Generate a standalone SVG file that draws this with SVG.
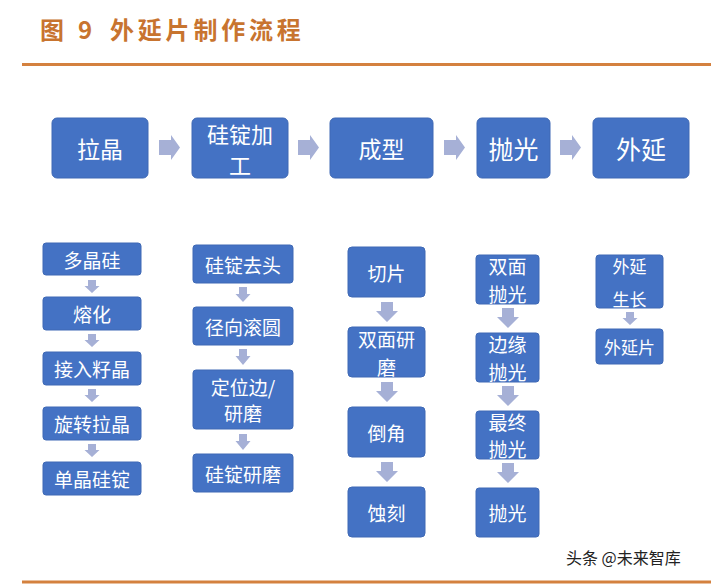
<svg xmlns="http://www.w3.org/2000/svg" width="711" height="587" viewBox="0 0 711 587">
<style>
.bx{fill:#4472C4;stroke:#3F69B5;stroke-width:1}
.t{fill:#FFFFFF;font-family:"Noto Sans CJK SC","Noto Sans",sans-serif;text-anchor:middle;dominant-baseline:central}
.ar{fill:#A6B0D6}
.rule{stroke:#D4813F;stroke-width:3}
</style>
<rect width="711" height="587" fill="#FFFFFF"/>
<text x="40" y="39" font-family="'Noto Sans CJK SC',sans-serif" font-weight="bold" font-size="24" fill="#C8742F"><tspan x="40">图</tspan><tspan x="78">9</tspan><tspan x="110" letter-spacing="3.8">外延片制作流程</tspan></text>
<line class="rule" x1="22" y1="64.5" x2="711" y2="64.5"/>
<line class="rule" x1="22" y1="582" x2="711" y2="582"/>

<g id="connectors">
  <polygon class="ar" points="159,140 171,140 171,135 180,147.5 171,160 171,155 159,155"/>
  <polygon class="ar" points="298,140 310,140 310,135 319,147.5 310,160 310,155 298,155"/>
  <polygon class="ar" points="444,140 456,140 456,135 465,147.5 456,160 456,155 444,155"/>
  <polygon class="ar" points="560,140 572,140 572,135 581,147.5 572,160 572,155 560,155"/>

  <polygon class="ar" points="88,280 96,280 96,286 99.5,286 92,293 84.5,286 88,286"/>
  <polygon class="ar" points="88,334 96,334 96,340 99.5,340 92,347 84.5,340 88,340"/>
  <polygon class="ar" points="88,389 96,389 96,395 99.5,395 92,402 84.5,395 88,395"/>
  <polygon class="ar" points="88,444 96,444 96,450 99.5,450 92,457 84.5,450 88,450"/>

  <polygon class="ar" points="239,287 247,287 247,294 250.5,294 243,302 235.5,294 239,294"/>
  <polygon class="ar" points="239,349 247,349 247,356 250.5,356 243,365 235.5,356 239,356"/>
  <polygon class="ar" points="239,434 247,434 247,441 250.5,441 243,450 235.5,441 239,441"/>

  <polygon class="ar" points="381,302 393,302 393,311 398,311 387,322 376,311 381,311"/>
  <polygon class="ar" points="381,382 393,382 393,391 398,391 387,402 376,391 381,391"/>
  <polygon class="ar" points="381,462 393,462 393,471 398,471 387,482 376,471 381,471"/>

  <polygon class="ar" points="502,308 514,308 514,317 519,317 508,328 497,317 502,317"/>
  <polygon class="ar" points="502,386 514,386 514,395 519,395 508,406 497,395 502,395"/>
  <polygon class="ar" points="502,463 514,463 514,472 519,472 508,483 497,472 502,472"/>

  <polygon class="ar" points="626,312 634,312 634,318 637.5,318 630,325 622.5,318 626,318"/>
</g>

<g id="n-lajing"><rect class="bx" x="52" y="118" width="96" height="60" rx="5"/><text class="t" x="100" y="148" font-size="23">拉晶</text></g>
<g id="n-guidingjiagong"><rect class="bx" x="192" y="118" width="96" height="60" rx="5"/><text class="t" x="240" y="133" font-size="22">硅锭加</text><text class="t" x="240" y="164" font-size="22">工</text></g>
<g id="n-chengxing"><rect class="bx" x="330" y="118" width="103" height="60" rx="5"/><text class="t" x="381.5" y="148" font-size="23">成型</text></g>
<g id="n-paoguang"><rect class="bx" x="477" y="118" width="73" height="60" rx="5"/><text class="t" x="513.5" y="148" font-size="25">抛光</text></g>
<g id="n-waiyan"><rect class="bx" x="593" y="118" width="96" height="60" rx="5"/><text class="t" x="641" y="148" font-size="25">外延</text></g>

<g id="n-duojinggui"><rect class="bx" x="43" y="243" width="98" height="32" rx="3"/><text class="t" x="92" y="259" font-size="19">多晶硅</text></g>
<g id="n-ronghua"><rect class="bx" x="43" y="297" width="98" height="33" rx="3"/><text class="t" x="92" y="313.5" font-size="19">熔化</text></g>
<g id="n-jierujing"><rect class="bx" x="43" y="352" width="98" height="33" rx="3"/><text class="t" x="92" y="368.5" font-size="19">接入籽晶</text></g>
<g id="n-xuanzhuan"><rect class="bx" x="43" y="407" width="98" height="33" rx="3"/><text class="t" x="92" y="423.5" font-size="19">旋转拉晶</text></g>
<g id="n-danjing"><rect class="bx" x="43" y="462" width="98" height="33" rx="3"/><text class="t" x="92" y="478.5" font-size="19">单晶硅锭</text></g>

<g id="n-qutou"><rect class="bx" x="193" y="245" width="100" height="38" rx="3"/><text class="t" x="243" y="264" font-size="19">硅锭去头</text></g>
<g id="n-gunyuan"><rect class="bx" x="193" y="307" width="100" height="38" rx="3"/><text class="t" x="243" y="326" font-size="19">径向滚圆</text></g>
<g id="n-dingwei"><rect class="bx" x="193" y="370" width="100" height="59" rx="3"/><text class="t" x="243" y="386.5" font-size="19">定位边/</text><text class="t" x="243" y="412.5" font-size="19">研磨</text></g>
<g id="n-yanmo"><rect class="bx" x="193" y="454" width="100" height="38" rx="3"/><text class="t" x="243" y="473" font-size="19">硅锭研磨</text></g>

<g id="n-qiepian"><rect class="bx" x="348" y="247" width="77" height="50" rx="4"/><text class="t" x="386.5" y="272" font-size="19">切片</text></g>
<g id="n-shuangmianyanmo"><rect class="bx" x="348" y="327" width="77" height="50" rx="4"/><text class="t" x="386.5" y="338" font-size="19">双面研</text><text class="t" x="386.5" y="366" font-size="19">磨</text></g>
<g id="n-daojiao"><rect class="bx" x="348" y="407" width="77" height="50" rx="4"/><text class="t" x="386.5" y="432" font-size="19">倒角</text></g>
<g id="n-shike"><rect class="bx" x="348" y="487" width="77" height="50" rx="4"/><text class="t" x="386.5" y="512" font-size="19">蚀刻</text></g>

<g id="n-shuangmianpaoguang"><rect class="bx" x="476" y="255" width="63" height="49" rx="3"/><text class="t" x="507.5" y="265" font-size="19">双面</text><text class="t" x="507.5" y="293" font-size="19">抛光</text></g>
<g id="n-bianyuan"><rect class="bx" x="476" y="333" width="63" height="49" rx="3"/><text class="t" x="507.5" y="343" font-size="19">边缘</text><text class="t" x="507.5" y="371" font-size="19">抛光</text></g>
<g id="n-zuizhong"><rect class="bx" x="476" y="411" width="63" height="48" rx="3"/><text class="t" x="507.5" y="421" font-size="19">最终</text><text class="t" x="507.5" y="448" font-size="19">抛光</text></g>
<g id="n-paoguang2"><rect class="bx" x="476" y="488" width="63" height="49" rx="3"/><text class="t" x="507.5" y="512.5" font-size="19">抛光</text></g>

<g id="n-waiyanshengzhang"><rect class="bx" x="596" y="255" width="67" height="53" rx="3"/><text class="t" x="629.5" y="265" font-size="17">外延</text><text class="t" x="629.5" y="298" font-size="17">生长</text></g>
<g id="n-waiyanpian"><rect class="bx" x="596" y="329" width="67" height="35" rx="3"/><text class="t" x="629.5" y="346.5" font-size="17">外延片</text></g>

<text x="566" y="564" font-family="'Noto Sans CJK SC',sans-serif" font-size="16" fill="#222222">头条 @未来智库</text>
</svg>
